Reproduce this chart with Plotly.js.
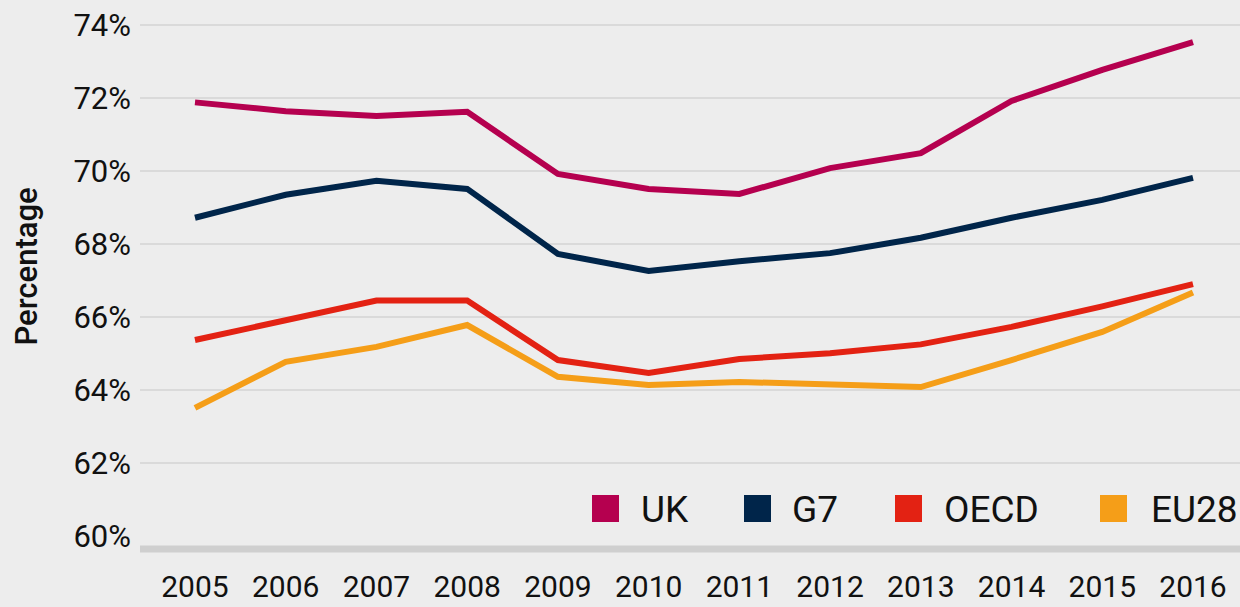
<!DOCTYPE html>
<html>
<head>
<meta charset="utf-8">
<script src="https://cdn.plot.ly/plotly-3.0.1.min.js"></script>
<style>html,body{margin:0;padding:0;background:#ededed;}#chart{width:1240px;height:607px;}</style>
</head>
<body>
<div id="chart"></div>
<script>
const years = ['2005','2006','2007','2008','2009','2010','2011','2012','2013','2014','2015','2016'];
const uk   = [71.88, 71.64, 71.51, 71.62, 69.92, 69.51, 69.37, 70.08, 70.49, 71.92, 72.77, 73.53];
const g7   = [68.72, 69.35, 69.73, 69.51, 67.73, 67.26, 67.53, 67.75, 68.17, 68.72, 69.21, 69.81];
const oecd = [65.37, 65.92, 66.45, 66.45, 64.82, 64.47, 64.85, 65.01, 65.25, 65.73, 66.29, 66.90];
const eu28 = [63.51, 64.77, 65.18, 65.78, 64.36, 64.14, 64.22, 64.14, 64.08, 64.82, 65.59, 66.67];
const seriesNames = ['UK', 'G7', 'OECD', 'EU28'];
const seriesColors = ['#b5004f', '#00254a', '#e32213', '#f59e18'];
const yTickVals = [60, 62, 64, 66, 68, 70, 72, 74];
const yTickText = ['60%', '62%', '64%', '66%', '68%', '70%', '72%', '74%'];
const yTitle = 'Percentage';

const seriesValues = [uk, g7, oecd, eu28];
const traces = seriesValues.map((vals, i) => ({
  type: 'scatter', mode: 'lines', name: seriesNames[i],
  x: years, y: vals,
  line: {color: seriesColors[i], width: 6},
  showlegend: false, hoverinfo: 'x+y+name'
}));

// plot geometry (pixels) used for legend / title placement
const L = 140, W = 1100, B = 549, H = 539;
const px = v => (v - L) / W;
const py = v => (B - v) / H;

const shapes = [];
// gridlines (no line at the 60% floor)
yTickVals.slice(1).forEach(v => shapes.push({
  type: 'line', xref: 'paper', yref: 'y', x0: 0, x1: 1, y0: v, y1: v,
  line: {color: '#d3d3d3', width: 1.5}, layer: 'below'
}));
// thick baseline
shapes.push({type: 'line', xref: 'paper', yref: 'paper', x0: 0, x1: 1, y0: 0, y1: 0,
  line: {color: '#cfcfcf', width: 7}, layer: 'below'});

// manual legend
const legSquareX = [605.5, 757.5, 908.5, 1113.5];
const legTextX = [639, 790, 942, 1149];
const legY = 508.5, sq = 27;
const annotations = [];
seriesNames.forEach((n, i) => {
  shapes.push({type: 'rect', xref: 'paper', yref: 'paper',
    x0: px(legSquareX[i] - sq/2), x1: px(legSquareX[i] + sq/2),
    y0: py(legY + sq/2), y1: py(legY - sq/2),
    fillcolor: seriesColors[i], line: {width: 0}});
  annotations.push({xref: 'paper', yref: 'paper', x: px(legTextX[i]), y: py(legY + 1),
    xanchor: 'left', yanchor: 'middle', showarrow: false, text: n,
    font: {family: 'Roboto, sans-serif', size: 37, color: '#111111'}});
});
// y-axis title
annotations.push({xref: 'paper', yref: 'paper', x: px(26), y: py(266.5),
  xanchor: 'center', yanchor: 'middle', showarrow: false, textangle: -90, text: yTitle,
  font: {family: 'Roboto, sans-serif', size: 31, color: '#111111', weight: 500}});

const layout = {
  width: 1240, height: 607,
  paper_bgcolor: '#ededed', plot_bgcolor: '#ededed',
  margin: {l: L, r: 0, t: 10, b: 58},
  showlegend: false,
  font: {family: 'Roboto, sans-serif', color: '#111111'},
  xaxis: {
    type: 'category', range: [-0.606, 11.518], showgrid: false, zeroline: false,
    showline: false, ticks: '', ticklabelstandoff: 17,
    tickfont: {family: 'Roboto, sans-serif', size: 30, color: '#111111'}
  },
  yaxis: {
    range: [59.644, 74.411], tickvals: yTickVals, ticktext: yTickText,
    showgrid: false, zeroline: false, showline: false, ticks: '', ticklabelstandoff: 8,
    tickfont: {family: 'Roboto, sans-serif', size: 31, color: '#111111'}
  },
  shapes: shapes,
  annotations: annotations
};

Plotly.newPlot('chart', traces, layout, {displayModeBar: false, staticPlot: true});
</script>
</body>
</html>
